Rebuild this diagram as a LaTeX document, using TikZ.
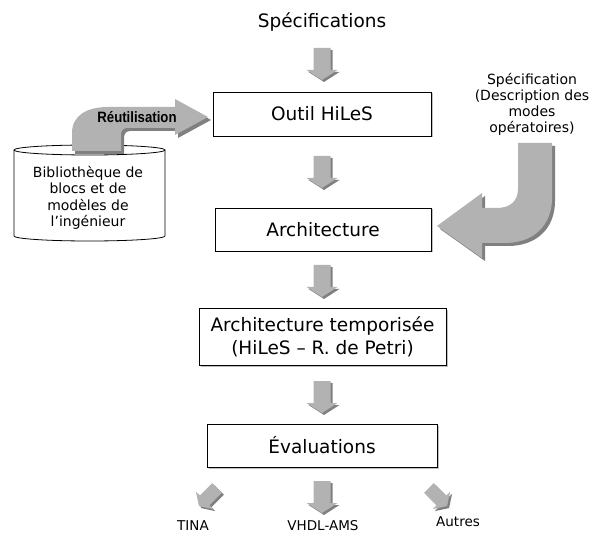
\documentclass[tikz,border=0pt]{standalone}
\usepackage{fontspec}
\setmainfont{DejaVu Sans}
\newfontfamily\narrowfont{Liberation Sans}
\usetikzlibrary{shadows}

\tikzset{
  box/.style={draw, line width=0.8pt, fill=white, inner sep=0pt, align=center,
    font=\fontsize{18.5}{23}\selectfont,
    drop shadow={shadow xshift=1.5pt, shadow yshift=-1.5pt, fill=gray!50, opacity=1}},
  notetext/.style={align=center, font=\fontsize{14}{16.5}\selectfont},
  leaftext/.style={font=\fontsize{13.5}{15}\selectfont}
}
\newcommand{\arrowblock}{(-8.5,-16) -- (8.5,-16) -- (8.5,6) -- (15.5,6) -- (0,16)
    -- (-15.5,6) -- (-8.5,6) -- cycle}

\begin{document}
\begin{tikzpicture}[x=1pt, y=-1pt]
    \useasboundingbox (0,0) rectangle (591,534);

    \node[font=\fontsize{18.5}{22}\selectfont] (specs) at (322,22) {Spécifications};

    \node[box, minimum width=218pt, minimum height=44pt] (outil) at (322,114) {Outil HiLeS};
    \node[box, minimum width=216pt, minimum height=43pt] (archi) at (323,229.5) {Architecture};
    \node[box, minimum width=247pt, minimum height=57pt] (tempo) at (322.5,336.5)
        {Architecture temporisée\\(HiLeS -- R. de Petri)};
    \node[box, minimum width=230pt, minimum height=43pt] (evals) at (322,445.5) {Évaluations};

    \foreach \x/\y/\a/\s/\name in {322/64/0/1/a1, 322/172/0/1/a2, 322/281/0/1/a3,
            322/397/0/1/a4, 208/497/-45/0.8/a5, 322/497/0/1/a6, 438/497/45/0.8/a7} {
        \coordinate (\name) at (\x,\y);
        \fill[gray, shift={(\x+2,\y+2)}, rotate=\a, scale=\s] \arrowblock;
        \fill[gray!60, shift={(\x,\y)}, rotate=\a, scale=\s] \arrowblock;
    }

    \node[leaftext] (tina) at (193,526) {TINA};
    \node[leaftext] (vhdl) at (323,526) {VHDL-AMS};
    \node[leaftext] (autres) at (458,522) {Autres};

    % bibliotheque
    \draw[fill=white, line width=0.8pt] (14,150) -- (14,236)
        arc[start angle=180, end angle=0, x radius=75.5, y radius=5] -- (165,150);
    \draw[fill=white, line width=0.8pt] (89.5,150) ellipse[x radius=75.5, y radius=5];
    \node[notetext] (biblio) at (88,198)
        {Bibliothèque de\\blocs et de\\modèles de\\l’ingénieur};

    \foreach \d/\col in {3/gray, 0/gray!60} {
        \fill[\col, shift={(\d,\d)}] (72,151) -- (72,133)
            .. controls (72,116) and (86,107) .. (108,107) -- (175,107) -- (175,99)
            -- (208,117) -- (175,135) -- (175,128) -- (127,128)
            .. controls (123,128) and (121,131) .. (121,135) -- (121,151) -- cycle;
        \fill[\col, shift={(\d,\d)}] (518,143) -- (552,143) -- (552,198)
            .. controls (552,226) and (533,243) .. (505,243) -- (482,243) -- (482,258)
            -- (437,226) -- (482,193) -- (482,208) -- (497,208)
            .. controls (510,208) and (518,201) .. (518,189) -- cycle;
    }
    \node[font=\narrowfont\bfseries\fontsize{15}{16}\selectfont] (reuse) at (137,117)
        {\scalebox{0.88}[1]{Réutilisation}};

    \node[notetext, font=\fontsize{14}{16}\selectfont] (modes) at (532,104)
        {Spécification\\(Description des\\modes\\opératoires)};
\end{tikzpicture}
\end{document}
